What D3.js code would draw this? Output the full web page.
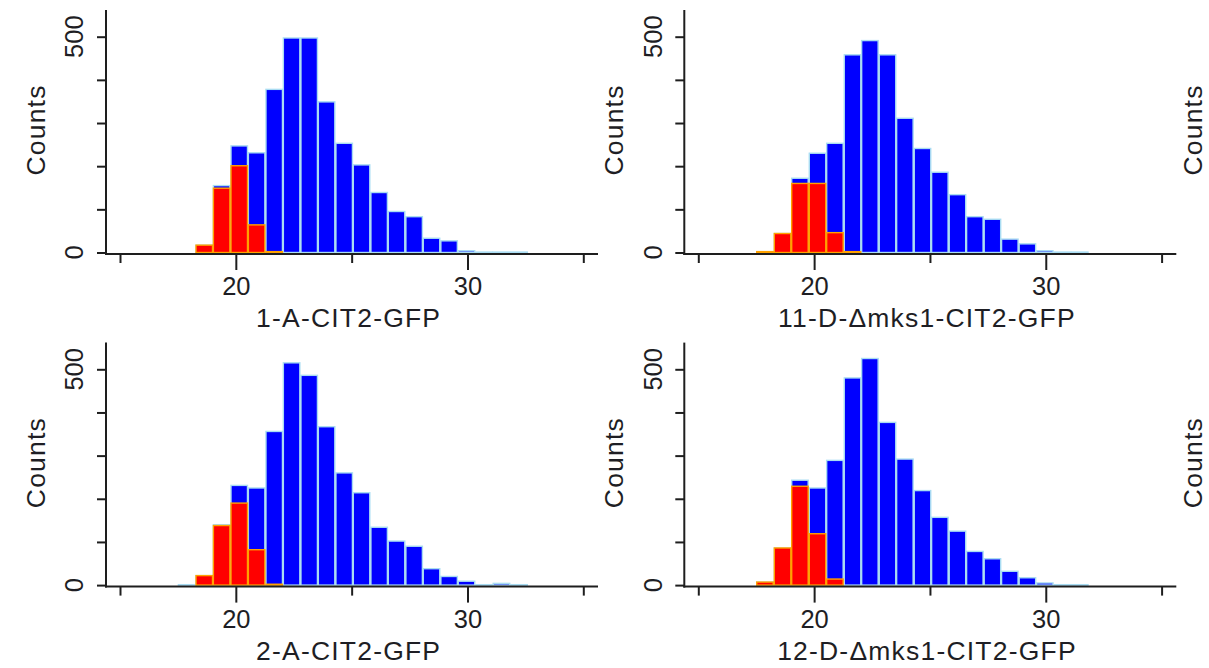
<!DOCTYPE html>
<html>
<head>
<meta charset="utf-8">
<script src="https://cdn.jsdelivr.net/npm/d3@7"></script>
<style>
  html, body { margin: 0; padding: 0; background: #ffffff; }
  svg { display: block; }
  text { font-family: "Liberation Sans", Arial, sans-serif; fill: #1e1e24; }
</style>
</head>
<body>
<svg id="chart" width="1209" height="668"></svg>
<script>
// ---- Data ----
const binLefts = [17.50, 18.26, 19.01, 19.77, 20.52, 21.28, 22.03, 22.79, 23.54, 24.30,
                  25.05, 25.81, 26.56, 27.32, 28.07, 28.83, 29.58, 30.34, 31.09, 31.85];
const binWidth = 0.755;

const titles = ["1-A-CIT2-GFP", "11-D-\u0394mks1-CIT2-GFP", "2-A-CIT2-GFP", "12-D-\u0394mks1-CIT2-GFP"];

const blue1  = [0, 17, 155, 247, 231, 378, 497, 497, 349, 253, 203, 139, 95, 83, 33, 27, 4, 1, 1, 1];
const red1   = [0, 17, 149, 201, 64, 2, 0, 0, 0, 0, 0, 0, 0, 0, 0, 0, 0, 0, 0, 0];
const blue11 = [2, 44, 172, 230, 253, 458, 491, 458, 311, 241, 186, 134, 83, 77, 31, 20, 4, 1, 1, 0];
const red11  = [2, 44, 160, 160, 46, 2, 0, 0, 0, 0, 0, 0, 0, 0, 0, 0, 0, 0, 0, 0];
const blue2  = [1, 22, 140, 231, 225, 356, 515, 486, 367, 260, 214, 134, 102, 90, 38, 20, 9, 1, 4, 1];
const red2   = [0, 22, 138, 190, 82, 2, 0, 0, 0, 0, 0, 0, 0, 0, 0, 0, 0, 0, 0, 0];
const blue12 = [7, 86, 243, 225, 289, 480, 525, 377, 292, 219, 157, 125, 78, 61, 32, 17, 5, 1, 1, 0];
const red12  = [7, 86, 229, 119, 14, 0, 0, 0, 0, 0, 0, 0, 0, 0, 0, 0, 0, 0, 0, 0];

const xMajorTicks = [20, 30];
const xMinorTicks = [15, 25, 35];
const yTicks = [0, 100, 200, 300, 400, 500];
const yLabelTicks = [0, 500];
const yLabel = "Counts";

// ---- Layout ----
const svg = d3.select("#chart");
const colStep = 578.3;
const panelDefs = [
  { title: titles[0], blue: blue1,  red: red1,  ox: 106,          oy: 254 },
  { title: titles[1], blue: blue11, red: red11, ox: 106 + colStep, oy: 254 },
  { title: titles[2], blue: blue2,  red: red2,  ox: 106,          oy: 586.6 },
  { title: titles[3], blue: blue12, red: red12, ox: 106 + colStep, oy: 586.6 }
];

const axisColor = "#1e1e1e";
const tickFont = "25.5px";
const titleFont = "26.5px";

function drawPanel(p) {
  const g = svg.append("g");
  const x = d3.scaleLinear().domain([15, 35]).range([p.ox + 14, p.ox + 477.3]);
  const y = d3.scaleLinear().domain([0, 500]).range([p.oy - 1.5, p.oy - 1.5 - 215.8]);

  // bars: blue (all), then red overlay
  const bins = binLefts.map((b, i) => ({ x0: b, x1: b + binWidth, blue: p.blue[i], red: p.red[i] }));
  g.append("g").selectAll("rect").data(bins.filter(d => d.blue > 0)).join("rect")
    .attr("x", d => x(d.x0) + 0.5)
    .attr("width", d => x(d.x1) - x(d.x0) - 1)
    .attr("y", d => y(d.blue))
    .attr("height", d => Math.max(0.6, y(0) - y(d.blue)))
    .attr("fill", "#0000ff")
    .attr("stroke", "#a9dcf2")
    .attr("stroke-width", 1.4);
  g.append("g").selectAll("rect").data(bins.filter(d => d.red > 0)).join("rect")
    .attr("x", d => x(d.x0) + 0.5)
    .attr("width", d => x(d.x1) - x(d.x0) - 1)
    .attr("y", d => y(d.red))
    .attr("height", d => Math.max(0.6, y(0) - y(d.red)))
    .attr("fill", "#ff0000")
    .attr("stroke", "#ffa200")
    .attr("stroke-width", 1.4);

  // y axis
  const yAx = g.append("g").attr("transform", `translate(${p.ox},0)`)
    .call(d3.axisLeft(y).tickValues(yTicks).tickSize(9).tickFormat(""));
  yAx.select(".domain").remove();
  yAx.selectAll("line").attr("stroke", axisColor).attr("stroke-width", 2);
  g.append("line")
    .attr("x1", p.ox).attr("x2", p.ox)
    .attr("y1", p.oy - 244).attr("y2", p.oy + 1)
    .attr("stroke", axisColor).attr("stroke-width", 2);
  g.selectAll(".ylab").data(yLabelTicks).join("text")
    .attr("class", "ylab")
    .attr("transform", d => `translate(${p.ox - 22.7},${y(d)}) rotate(-90)`)
    .attr("text-anchor", "middle")
    .style("font-size", tickFont)
    .text(d => d);

  // x axis
  g.append("line")
    .attr("x1", p.ox - 1).attr("x2", p.ox + 492)
    .attr("y1", p.oy).attr("y2", p.oy)
    .attr("stroke", axisColor).attr("stroke-width", 2);
  const xMaj = g.append("g").attr("transform", `translate(0,${p.oy})`)
    .call(d3.axisBottom(x).tickValues(xMajorTicks).tickSize(16).tickFormat(d3.format("d")));
  xMaj.select(".domain").remove();
  xMaj.selectAll("line").attr("stroke", axisColor).attr("stroke-width", 2);
  xMaj.selectAll("text")
    .attr("y", 41.3).attr("dy", 0)
    .style("font-size", tickFont)
    .style("font-family", "'Liberation Sans', Arial, sans-serif")
    .attr("fill", "#1e1e24");
  const xMin = g.append("g").attr("transform", `translate(0,${p.oy})`)
    .call(d3.axisBottom(x).tickValues(xMinorTicks).tickSize(9).tickFormat(""));
  xMin.select(".domain").remove();
  xMin.selectAll("line").attr("stroke", axisColor).attr("stroke-width", 2);

  // y label
  g.append("text")
    .attr("transform", `translate(${p.ox - 61},${p.oy - 124}) rotate(-90)`)
    .attr("text-anchor", "middle")
    .style("font-size", titleFont)
    .style("letter-spacing", "1.2px")
    .text(yLabel);

  // title
  g.append("text")
    .attr("x", x(25) - 3)
    .attr("y", p.oy + 73)
    .attr("text-anchor", "middle")
    .style("font-size", titleFont)
    .style("letter-spacing", "1.2px")
    .text(p.title);
}

panelDefs.forEach(drawPanel);

// partial third column: only its y labels are visible
[254, 586.6].forEach(oy => {
  svg.append("text")
    .attr("transform", `translate(${106 + 2 * colStep - 61},${oy - 124}) rotate(-90)`)
    .attr("text-anchor", "middle")
    .style("font-size", titleFont)
    .style("letter-spacing", "1.2px")
    .text(yLabel);
});
</script>
</body>
</html>
